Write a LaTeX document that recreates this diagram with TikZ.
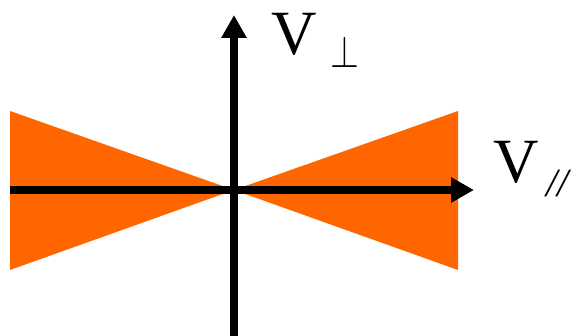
\documentclass[tikz,border=0pt]{standalone}
\usepackage{fontspec}
\setmainfont{Liberation Serif}
\usetikzlibrary{arrows.meta}
\definecolor{bowtie}{HTML}{FF6600}
\tikzset{
  axis/.style={line width=7.5pt,-{Triangle[length=23pt,width=24pt]}},
  cone/.style={fill=bowtie,draw=none},
  lbl/.style={inner sep=0pt,anchor=base west}
}
\begin{document}
\begin{tikzpicture}[x=1pt,y=1pt]
\useasboundingbox (0,0) rectangle (572,336);
\coordinate (O) at (234,146);
\coordinate (TL) at (10,225);
\coordinate (BL) at (10,66);
\coordinate (TR) at (458,225);
\coordinate (BR) at (458,66);
\coordinate (xs) at (10,146);
\coordinate (xe) at (474,146);
\coordinate (ys) at (234,0);
\coordinate (ye) at (234,321);
\fill[cone] (TL) -- (O) -- (BL) -- cycle;
\fill[cone] (TR) -- (O) -- (BR) -- cycle;
\draw[axis] (xs) -- (xe);
\draw[axis] (ys) -- (ye);
\node[lbl] (vperp) at (271,281) {\fontsize{63}{63}\selectfont V};
\node[lbl] (perp) at (330,268) {\scalebox{3.7}[4.5]{$\perp$}};
\node[lbl] (vpar) at (493,153) {\fontsize{63}{63}\selectfont V};
\node[lbl] (par) at (546,139) {\fontsize{40}{40}\selectfont\itshape //};
\end{tikzpicture}
\end{document}
